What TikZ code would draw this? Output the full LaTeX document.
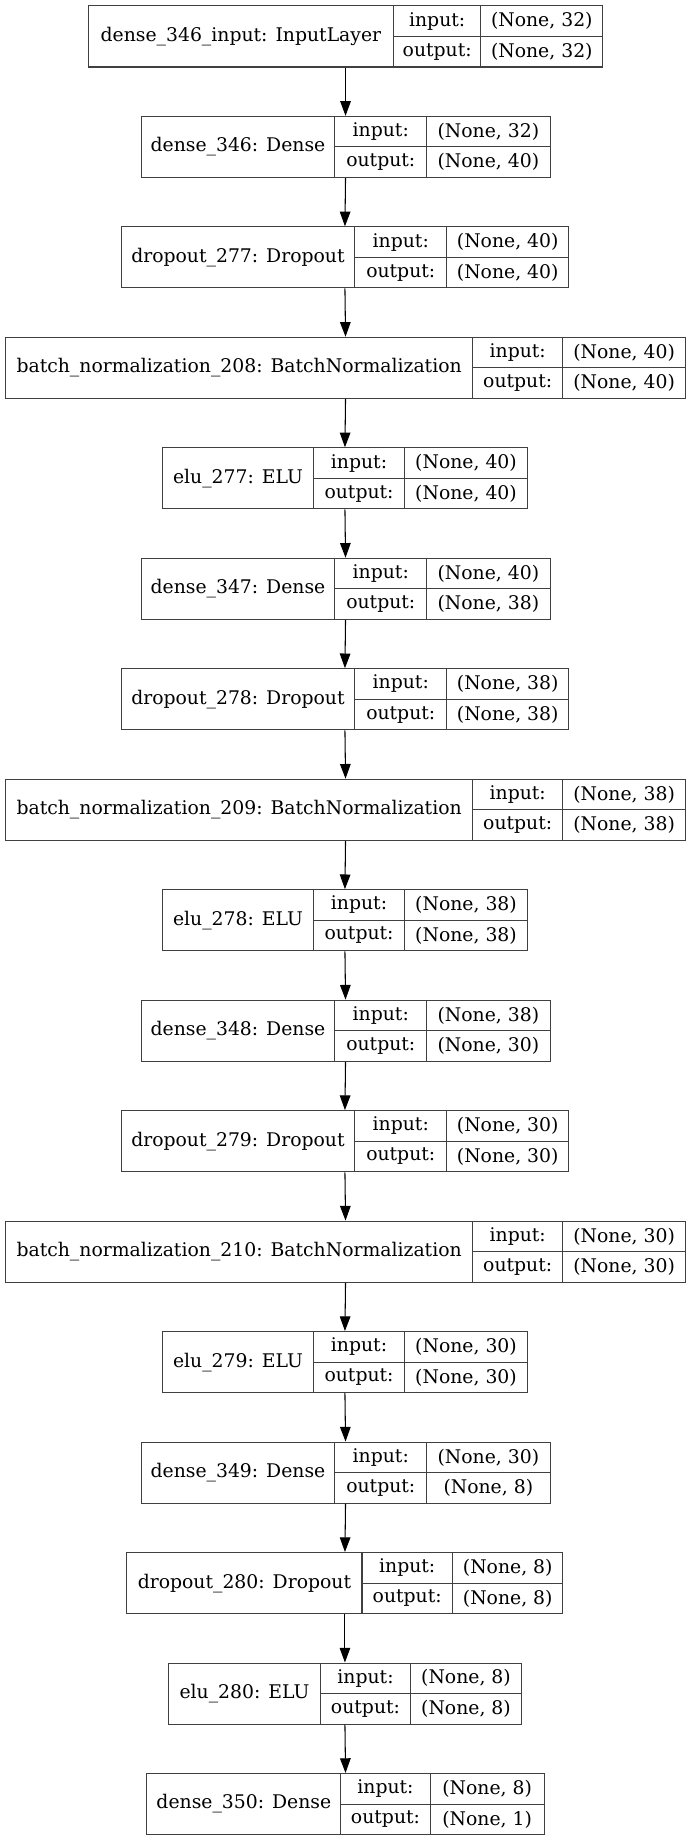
\documentclass[tikz,border=0pt]{standalone}
\usepackage{fontspec}
\setmainfont{DejaVu Serif}
\usepackage{tikz}
\usetikzlibrary{arrows.meta}

\begin{document}
\begin{tikzpicture}[x=1pt,y=-1pt]
	\tikzstyle{every node}+=[inner sep=0pt,font=\fontsize{16}{19}\selectfont]
	\tikzstyle{rec}=[draw=black!75,line width=0.9pt,rectangle,minimum height=52pt]
	\useasboundingbox (0,0) rectangle (588,1569);
	% name/left/div1/div2/right/label/in/out
	\foreach \n/\a/\b/\c/\d/\lab/\i/\o [count=\k from 0, remember=\n as \last (initially none)] in {
		in346/75/335/409/513/dense\_346\_input: InputLayer/32/32,
		d346/120/285/363/468/dense\_346: Dense/32/40,
		dr277/103/302/380/484/dropout\_277: Dropout/40/40,
		bn208/5/402/479/583/batch\_normalization\_208: BatchNormalization/40/40,
		elu277/138/267/344/449/elu\_277: ELU/40/40,
		d347/120/285/363/468/dense\_347: Dense/40/38,
		dr278/103/302/380/484/dropout\_278: Dropout/38/38,
		bn209/5/402/479/583/batch\_normalization\_209: BatchNormalization/38/38,
		elu278/138/267/344/449/elu\_278: ELU/38/38,
		d348/120/285/363/468/dense\_348: Dense/38/30,
		dr279/103/302/380/484/dropout\_279: Dropout/30/30,
		bn210/5/402/479/583/batch\_normalization\_210: BatchNormalization/30/30,
		elu279/138/267/344/449/elu\_279: ELU/30/30,
		d349/120/285/363/468/dense\_349: Dense/30/8,
		dr280/108/308/385/479/dropout\_280: Dropout/8/8,
		elu280/143/273/349/444/elu\_280: ELU/8/8,
		d350/125/290/366/463/dense\_350: Dense/8/1}
	{
		\pgfmathsetmacro{\y}{5+94*\k}
		\node[rec,minimum width={(\d-\a)*1pt}] (\n) at ({(\a+\d)/2},{\y+26}) {};
		\draw[black!75,line width=0.9pt] (\b,\y) -- (\b,{\y+52});
		\draw[black!75,line width=0.9pt] (\c,\y) -- (\c,{\y+52});
		\draw[black!75,line width=0.9pt] (\b,{\y+26}) -- (\d,{\y+26});
		\node (\n-lab) at ({(\a+\b)/2},{\y+26}) {\lab};
		\node (\n-in) at ({(\b+\c)/2},{\y+13}) {input:};
		\node (\n-out) at ({(\b+\c)/2},{\y+39}) {output:};
		\node (\n-iv) at ({(\c+\d)/2},{\y+13}) {(None, \i)};
		\node (\n-ov) at ({(\c+\d)/2},{\y+39}) {(None, \o)};
		\ifnum\k>0
			\draw[line width=0.9pt,-{Triangle[length=12.5pt,width=9pt]}] (\last.south) -- (\n.north);
		\fi
	}
\end{tikzpicture}
\end{document}
